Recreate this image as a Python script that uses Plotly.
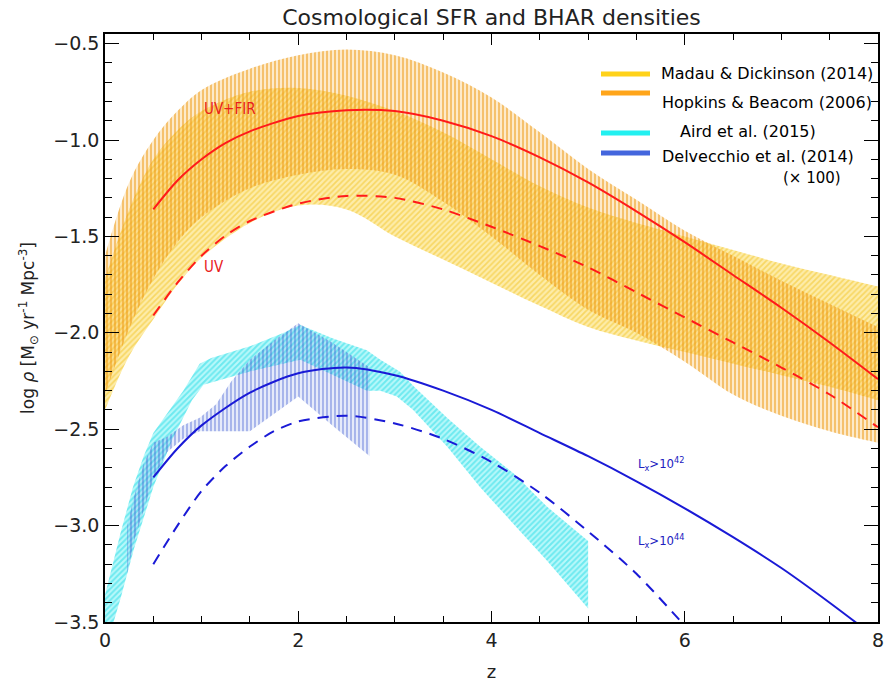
import plotly.graph_objects as go

# ---------------- data ----------------
band_z = [0, 0.25, 0.5, 0.75, 1.0, 1.5, 2.0, 2.5, 3.0, 3.5, 4.0, 4.5, 5.0, 5.5, 6.0, 6.5, 7.0, 7.5, 8.0]

madau_hi = [-1.72, -1.36, -1.10, -0.95, -0.85, -0.75, -0.73, -0.77, -0.85, -0.96, -1.10, -1.24, -1.35, -1.43, -1.50, -1.57, -1.64, -1.70, -1.76]
madau_lo = [-2.40, -2.12, -1.93, -1.75, -1.61, -1.43, -1.34, -1.36, -1.50, -1.62, -1.74, -1.86, -1.97, -2.04, -2.10, -2.16, -2.22, -2.28, -2.35]

hopkins_hi = [-1.60, -1.22, -1.00, -0.85, -0.74, -0.63, -0.56, -0.53, -0.56, -0.65, -0.78, -0.96, -1.15, -1.31, -1.47, -1.60, -1.73, -1.85, -1.97]
hopkins_lo = [-2.32, -1.98, -1.72, -1.53, -1.40, -1.25, -1.18, -1.15, -1.18, -1.32, -1.50, -1.70, -1.88, -2.00, -2.15, -2.32, -2.43, -2.51, -2.57]

sfr_z = [0.5, 0.75, 1.0, 1.25, 1.5, 2.0, 2.5, 3.0, 3.5, 4.0, 4.5, 5.0, 5.5, 6.0, 6.5, 7.0, 7.5, 8.0]
uv_fir = [-1.36, -1.21, -1.10, -1.015, -0.955, -0.875, -0.845, -0.85, -0.90, -0.98, -1.09, -1.22, -1.37, -1.53, -1.70, -1.87, -2.05, -2.24]
uv_only = [-1.91, -1.74, -1.60, -1.495, -1.42, -1.33, -1.29, -1.30, -1.36, -1.45, -1.55, -1.66, -1.79, -1.92, -2.05, -2.18, -2.32, -2.49]

bhar42_z = [0.5, 0.75, 1.0, 1.5, 2.0, 2.5, 3.0, 3.5, 4.0, 4.5, 5.0, 5.5, 6.0, 6.5, 7.0, 7.5, 8.0]
bhar42 = [-2.75, -2.60, -2.48, -2.31, -2.21, -2.18, -2.22, -2.30, -2.40, -2.52, -2.64, -2.77, -2.91, -3.06, -3.22, -3.40, -3.59]

bhar44_z = [0.5, 0.75, 1.0, 1.25, 1.5, 1.75, 2.0, 2.5, 3.0, 3.5, 4.0, 4.5, 5.0, 5.5, 6.0]
bhar44 = [-3.20, -3.00, -2.82, -2.69, -2.59, -2.51, -2.46, -2.43, -2.47, -2.55, -2.67, -2.83, -3.03, -3.25, -3.52]

# Aird et al. (2015) outline: upper edge left->right, then lower edge right->left
aird_z = [0.0, 0.16, 0.29, 0.40, 0.5, 0.64, 0.81, 0.98, 1.1, 1.5, 1.85, 2.02, 2.36, 2.71, 2.85, 3.05, 3.2, 3.54, 3.88, 4.23, 4.57, 5.0,
          5.0, 4.57, 4.23, 3.88, 3.54, 3.19, 3.02, 2.85, 2.71, 2.02, 1.5, 1.02, 0.9, 0.7, 0.5, 0.3, 0.16, 0.0]
aird_y = [-3.36, -3.04, -2.80, -2.64, -2.52, -2.42, -2.30, -2.16, -2.13, -2.07, -2.00, -1.96, -2.03, -2.09, -2.14, -2.20, -2.28, -2.44, -2.59, -2.73, -2.90, -3.08,
          -3.43, -3.18, -2.99, -2.80, -2.59, -2.40, -2.33, -2.30, -2.30, -2.14, -2.20, -2.27, -2.35, -2.55, -2.80, -3.12, -3.38, -3.65]

# Delvecchio et al. (2014) outline
delv_z = [0.23, 0.3, 0.4, 0.5, 0.64, 0.81, 0.98, 1.15, 1.31, 1.5, 1.75, 2.0, 2.35, 2.74,
          2.74, 2.35, 2.0, 1.5, 0.98, 0.81, 0.64, 0.5, 0.4, 0.3, 0.23]
delv_y = [-3.00, -2.85, -2.68, -2.57, -2.54, -2.48, -2.44, -2.37, -2.25, -2.14, -2.04, -1.95, -2.05, -2.18,
          -2.64, -2.48, -2.33, -2.51, -2.51, -2.55, -2.62, -2.76, -2.92, -3.08, -3.25]

legend_names = ["Madau & Dickinson (2014)", "Hopkins & Beacom (2006)", "Aird et al. (2015)", "Delvecchio et al. (2014)"]
legend_colors = ["#FFD21A", "#FFA51A", "#22F0F0", "#4466DD"]

FONT = "DejaVu Sans, Arial, sans-serif"
NARROW = "DejaVu Sans Condensed, DejaVu Sans, sans-serif"

fig = go.Figure()


def add_band(lo, hi, fillcolor, pattern):
    fig.add_trace(go.Scatter(x=band_z, y=lo, mode="lines", line=dict(width=0, shape="spline"),
                             hoverinfo="skip", showlegend=False))
    fig.add_trace(go.Scatter(x=band_z, y=hi, mode="lines", line=dict(width=0, shape="spline"),
                             fill="tonexty", fillcolor=fillcolor, fillpattern=pattern,
                             hoverinfo="skip", showlegend=False))


# Madau & Dickinson band (yellow, diagonal hatch)
add_band(madau_lo, madau_hi, "rgba(250,220,100,0.55)",
         dict(shape="/", fgcolor="#F2C320", size=4, solidity=0.45, fillmode="overlay"))
# Hopkins & Beacom band (orange, vertical stripes)
add_band(hopkins_lo, hopkins_hi, "rgba(246,172,50,0.26)",
         dict(shape="|", fgcolor="#EE9A12", size=4, solidity=0.5, fillmode="overlay"))

# Aird et al. band (cyan, diagonal hatch)
fig.add_trace(go.Scatter(
    x=aird_z, y=aird_y, fill="toself", mode="lines", line=dict(width=0),
    fillcolor="rgba(80,238,242,0.40)",
    fillpattern=dict(shape="/", fgcolor="#22DCE6", size=4, solidity=0.5, fillmode="overlay"),
    hoverinfo="skip", showlegend=False))

# Delvecchio et al. band (blue, vertical stripes)
fig.add_trace(go.Scatter(
    x=delv_z, y=delv_y, fill="toself", mode="lines", line=dict(width=0),
    fillcolor="rgba(110,140,225,0.18)",
    fillpattern=dict(shape="|", fgcolor="rgba(45,75,205,0.85)", size=4, solidity=0.4, fillmode="overlay"),
    hoverinfo="skip", showlegend=False))

# SFR curves
fig.add_trace(go.Scatter(x=sfr_z, y=uv_fir, mode="lines", line=dict(color="#FF1A1A", width=2, shape="spline", smoothing=0.8),
                         showlegend=False))
fig.add_trace(go.Scatter(x=sfr_z, y=uv_only, mode="lines",
                         line=dict(color="#FF1A1A", width=2, dash="11px,8px", shape="spline", smoothing=0.8),
                         showlegend=False))
# BHAR curves
fig.add_trace(go.Scatter(x=bhar42_z, y=bhar42, mode="lines", line=dict(color="#1A1AD6", width=2, shape="spline", smoothing=0.8),
                         showlegend=False))
fig.add_trace(go.Scatter(x=bhar44_z, y=bhar44, mode="lines",
                         line=dict(color="#1A1AD6", width=2, dash="11px,8px", shape="spline", smoothing=0.8),
                         showlegend=False))

# ---------------- manual legend ----------------
W, H = 884, 683
L, R, T, B = 105, 6, 34, 61
pw, ph = W - L - R, H - T - B


def px2paper(px, py):
    return (px - L) / pw, (H - B - py) / ph


swatch_y = [74, 93, 133, 153]
text_pos = [(659, 74), (660, 102), (678, 131), (660, 157)]
for name, col, sy, (tx, ty) in zip(legend_names, legend_colors, swatch_y, text_pos):
    x0, y0 = px2paper(601, sy)
    x1, _ = px2paper(650, sy)
    fig.add_shape(type="line", xref="paper", yref="paper", x0=x0, x1=x1, y0=y0, y1=y0,
                  line=dict(color=col, width=5))
    ax, ay = px2paper(tx, ty)
    fig.add_annotation(xref="paper", yref="paper", x=ax, y=ay, text=name, showarrow=False,
                       xanchor="left", yanchor="middle", font=dict(family=FONT, size=16, color="black"))
ax, ay = px2paper(781, 178)
fig.add_annotation(xref="paper", yref="paper", x=ax, y=ay, text="(× 100)", showarrow=False,
                   xanchor="left", yanchor="middle", font=dict(family=FONT, size=15, color="black"))

# curve labels
fig.add_annotation(x=1.0, y=-0.84, text="UV+FIR", showarrow=False, xanchor="left", yanchor="middle",
                   font=dict(family=NARROW, size=15, color="#E8201A"))
fig.add_annotation(x=1.0, y=-1.66, text="UV", showarrow=False, xanchor="left", yanchor="middle",
                   font=dict(family=NARROW, size=15, color="#E8201A"))
fig.add_annotation(x=5.5, y=-2.68, text="L<sub>x</sub>>10<sup>42</sup>", showarrow=False, xanchor="left", yanchor="middle",
                   font=dict(family=NARROW, size=13, color="#2020C0"))
fig.add_annotation(x=5.5, y=-3.08, text="L<sub>x</sub>>10<sup>44</sup>", showarrow=False, xanchor="left", yanchor="middle",
                   font=dict(family=NARROW, size=13, color="#2020C0"))

axis_common = dict(showline=True, linecolor="black", linewidth=1.5, mirror="allticks", ticks="inside",
                   tickcolor="black", tickwidth=1.2, showgrid=False, zeroline=False, automargin=False,
                   ticklabeloverflow="allow",
                   tickfont=dict(family=FONT, size=19, color="#222"))

fig.update_layout(
    width=W, height=H,
    margin=dict(l=L, r=R, t=T, b=B, autoexpand=False),
    paper_bgcolor="white", plot_bgcolor="white",
    title=dict(text="Cosmological SFR and BHAR densities", x=0.5, xref="paper", xanchor="center",
               y=1 - 17 / H, yref="container", yanchor="middle",
               font=dict(family=FONT, size=22, color="#222")),
    xaxis=dict(range=[0, 8], tick0=0, dtick=2, ticklen=11,
               minor=dict(dtick=0.5, ticklen=6, ticks="inside", tickcolor="black", tickwidth=1.2, showgrid=False),
               title=dict(text="z", font=dict(family=FONT, size=18, color="#222"), standoff=16),
               **axis_common),
    yaxis=dict(range=[-3.5, -0.45], tick0=-0.5, dtick=0.5, tickformat=".1f", ticklen=14,
               minor=dict(dtick=0.1, ticklen=7, ticks="inside", tickcolor="black", tickwidth=1.2, showgrid=False),
               title=dict(text="log <i>ρ</i> [M<sub>⊙</sub> yr<sup>-1</sup> Mpc<sup>-3</sup>]",
                          font=dict(family=FONT, size=17, color="#222"), standoff=14),
               **axis_common),
    showlegend=False,
)

fig.write_html("out.html")
